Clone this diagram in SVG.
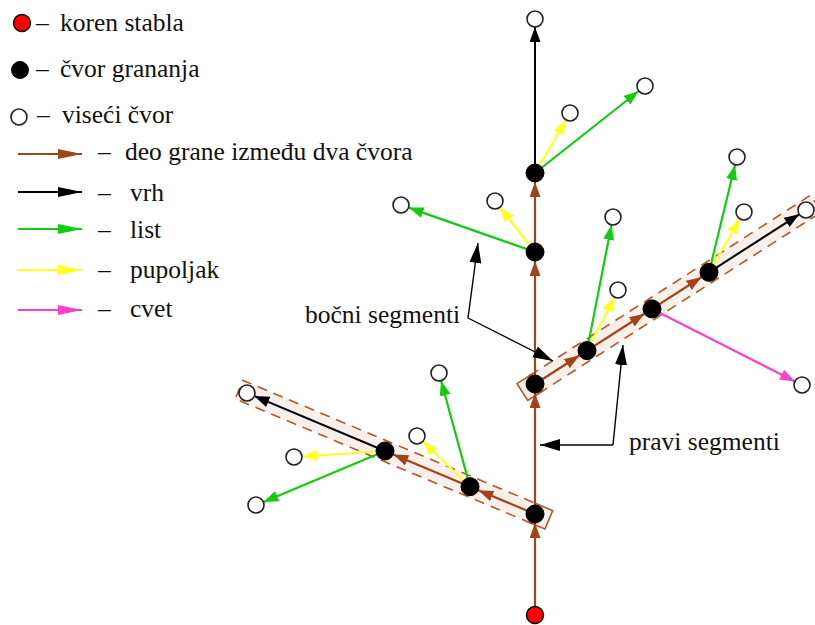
<svg xmlns="http://www.w3.org/2000/svg" width="815" height="625" viewBox="0 0 815 625">
<style>
.t{font-family:'Liberation Serif','DejaVu Serif',serif;font-size:25.5px;fill:#111}
.br{stroke:#a0441a;stroke-width:2.2;fill:none}
.bk{stroke:#000;stroke-width:2;fill:none}
.gr{stroke:#11cc11;stroke-width:2.2;fill:none}
.ye{stroke:#ffff22;stroke-width:2.2;fill:none}
.mg{stroke:#ff3fcc;stroke-width:2.2;fill:none}
.ann{stroke:#000;stroke-width:1.4;fill:none}
.seg{fill:#f8eeea;stroke:none}
.dash{fill:none;stroke:#b0582a;stroke-width:1.6;stroke-dasharray:10,7}
.cap{fill:none;stroke:#b0582a;stroke-width:1.6}
.wn{fill:#fff;stroke:#222;stroke-width:1.6}
.bn{fill:#000;stroke:#000;stroke-width:1}
.rn{fill:#ff0000;stroke:#000;stroke-width:1.4}
</style>
<defs>
<marker id="aBr" markerUnits="userSpaceOnUse" markerWidth="16" markerHeight="12" refX="15" refY="5.5" orient="auto"><path d="M0,0 L15,5.5 L0,11 z" fill="#a0441a"/></marker>
<marker id="aBk" markerUnits="userSpaceOnUse" markerWidth="16" markerHeight="12" refX="15" refY="5.5" orient="auto"><path d="M0,0 L15,5.5 L0,11 z" fill="#000"/></marker>
<marker id="aGr" markerUnits="userSpaceOnUse" markerWidth="16" markerHeight="12" refX="15" refY="5.5" orient="auto"><path d="M0,0 L15,5.5 L0,11 z" fill="#11cc11"/></marker>
<marker id="aYe" markerUnits="userSpaceOnUse" markerWidth="16" markerHeight="12" refX="15" refY="5.5" orient="auto"><path d="M0,0 L15,5.5 L0,11 z" fill="#ffff22"/></marker>
<marker id="aMg" markerUnits="userSpaceOnUse" markerWidth="16" markerHeight="12" refX="15" refY="5.5" orient="auto"><path d="M0,0 L15,5.5 L0,11 z" fill="#ff3fcc"/></marker>
<marker id="lBr" markerUnits="userSpaceOnUse" markerWidth="25" markerHeight="11" refX="24" refY="5" orient="auto"><path d="M0,0 L24,5 L0,10 z" fill="#a0441a"/></marker>
<marker id="lBk" markerUnits="userSpaceOnUse" markerWidth="25" markerHeight="11" refX="24" refY="5" orient="auto"><path d="M0,0 L24,5 L0,10 z" fill="#000"/></marker>
<marker id="lGr" markerUnits="userSpaceOnUse" markerWidth="25" markerHeight="11" refX="24" refY="5" orient="auto"><path d="M0,0 L24,5 L0,10 z" fill="#11cc11"/></marker>
<marker id="lYe" markerUnits="userSpaceOnUse" markerWidth="25" markerHeight="11" refX="24" refY="5" orient="auto"><path d="M0,0 L24,5 L0,10 z" fill="#ffff22"/></marker>
<marker id="lMg" markerUnits="userSpaceOnUse" markerWidth="25" markerHeight="11" refX="24" refY="5" orient="auto"><path d="M0,0 L24,5 L0,10 z" fill="#ff3fcc"/></marker>
<marker id="aAn" markerUnits="userSpaceOnUse" markerWidth="21" markerHeight="13" refX="20" refY="6" orient="auto"><path d="M0,0 L20,6 L0,12 z" fill="#000"/></marker>
</defs>

<!-- legend -->
<g id="legend" font-family="'Liberation Serif', 'DejaVu Serif', serif">
<circle class="rn" cx="22" cy="23" r="8.5"/>
<text class="t" x="36" y="31">–</text><text class="t" x="60" y="31">koren stabla</text>
<circle class="bn" cx="20" cy="70" r="8.5"/>
<text class="t" x="36" y="77">–</text><text class="t" x="60" y="77">čvor grananja</text>
<circle class="wn" cx="19" cy="117" r="8"/>
<text class="t" x="37" y="123">–</text><text class="t" x="62" y="123">viseći čvor</text>
<line class="br" x1="18" y1="154" x2="82" y2="154" marker-end="url(#lBr)"/>
<text class="t" x="98" y="160">–</text><text class="t" x="125" y="160">deo grane između dva čvora</text>
<line class="bk" x1="18" y1="192" x2="82" y2="192" marker-end="url(#lBk)"/>
<text class="t" x="98" y="201">–</text><text class="t" x="130" y="201">vrh</text>
<line class="gr" x1="18" y1="229" x2="82" y2="229" marker-end="url(#lGr)"/>
<text class="t" x="98" y="238">–</text><text class="t" x="130" y="238">list</text>
<line class="ye" x1="18" y1="270" x2="82" y2="270" marker-end="url(#lYe)"/>
<text class="t" x="98" y="278">–</text><text class="t" x="130" y="278">pupoljak</text>
<line class="mg" x1="18" y1="310" x2="82" y2="310" marker-end="url(#lMg)"/>
<text class="t" x="98" y="317">–</text><text class="t" x="130" y="317">cvet</text>
</g>

<!-- segment highlights -->
<g id="segments">
<g transform="translate(535,384) rotate(-32.7)">
<rect class="seg" x="-15" y="-10" width="349" height="20"/>
<path class="dash" d="M0,-10 L334,-10 L334,10 L0,10"/>
<path class="cap" d="M4,-10 L-15,-10 L-15,10 L4,10"/>
</g>
<g transform="translate(535,514) rotate(202.8)">
<rect class="seg" x="-15" y="-10" width="336" height="20"/>
<path class="dash" d="M0,-10 L321,-10 L321,10 L0,10"/>
<path class="cap" d="M4,-10 L-15,-10 L-15,10 L4,10"/>
</g>
</g>

<!-- connectors -->
<g id="connectors">
<line class="br" x1="535" y1="615" x2="535" y2="523" marker-end="url(#aBr)"/>
<line class="br" x1="535" y1="514" x2="535" y2="393" marker-end="url(#aBr)"/>
<line class="br" x1="535" y1="384" x2="535" y2="261" marker-end="url(#aBr)"/>
<line class="br" x1="535" y1="252" x2="535" y2="182" marker-end="url(#aBr)"/>
<line class="bk" x1="535" y1="173" x2="535" y2="27" marker-end="url(#aBk)"/>
<line class="ye" x1="535" y1="173" x2="566" y2="120" marker-end="url(#aYe)"/>
<line class="gr" x1="535" y1="173" x2="638.7" y2="91" marker-end="url(#aGr)"/>
<line class="ye" x1="535" y1="252" x2="499.9" y2="207.3" marker-end="url(#aYe)"/>
<line class="gr" x1="535" y1="252" x2="408.6" y2="207.6" marker-end="url(#aGr)"/>
<line class="br" x1="535" y1="384" x2="579.4" y2="355.5" marker-end="url(#aBr)"/>
<line class="br" x1="587" y1="350.6" x2="644.4" y2="313.8" marker-end="url(#aBr)"/>
<line class="br" x1="652" y1="308.9" x2="701.4" y2="277.2" marker-end="url(#aBr)"/>
<line class="bk" x1="709" y1="272.3" x2="799.3" y2="214.3" marker-end="url(#aBk)"/>
<line class="gr" x1="587" y1="350.6" x2="611.5" y2="224.9" marker-end="url(#aGr)"/>
<line class="ye" x1="587" y1="350.6" x2="614.4" y2="297.1" marker-end="url(#aYe)"/>
<line class="mg" x1="652" y1="308.9" x2="794.9" y2="381.4" marker-end="url(#aMg)"/>
<line class="gr" x1="709" y1="272.3" x2="735.1" y2="164.8" marker-end="url(#aGr)"/>
<line class="ye" x1="709" y1="272.3" x2="740" y2="218.9" marker-end="url(#aYe)"/>
<line class="br" x1="535" y1="514" x2="478.3" y2="490.2" marker-end="url(#aBr)"/>
<line class="br" x1="470" y1="486.7" x2="393.3" y2="454.5" marker-end="url(#aBr)"/>
<line class="bk" x1="385" y1="451" x2="254.4" y2="396.1" marker-end="url(#aBk)"/>
<line class="gr" x1="470" y1="486.7" x2="441.1" y2="380.7" marker-end="url(#aGr)"/>
<line class="ye" x1="470" y1="486.7" x2="422.8" y2="441.5" marker-end="url(#aYe)"/>
<line class="ye" x1="385" y1="451" x2="302" y2="456.5" marker-end="url(#aYe)"/>
<line class="gr" x1="385" y1="451" x2="263.4" y2="501.9" marker-end="url(#aGr)"/>
</g>

<!-- annotations -->
<g id="annotations">
<polyline class="ann" points="468,318 478,243" marker-end="url(#aAn)"/>
<polyline class="ann" points="468,318 553,361" marker-end="url(#aAn)"/>
<text class="t" x="305" y="323">bočni segmenti</text>
<polyline class="ann" points="613,445 623,345" marker-end="url(#aAn)"/>
<polyline class="ann" points="613,445 540,445" marker-end="url(#aAn)"/>
<text class="t" x="629" y="450">pravi segmenti</text>
</g>

<!-- nodes -->
<g id="root"><circle class="rn" cx="535" cy="615" r="8.5"/></g>
<g id="b1"><circle class="bn" cx="535" cy="514" r="9"/></g>
<g id="b2"><circle class="bn" cx="535" cy="384" r="9"/></g>
<g id="b3"><circle class="bn" cx="535" cy="252" r="9"/></g>
<g id="b4"><circle class="bn" cx="535" cy="173" r="9"/></g>
<g id="top"><circle class="wn" cx="535" cy="19" r="8"/></g>
<g id="w_b4y"><circle class="wn" cx="570" cy="113" r="8"/></g>
<g id="w_b4g"><circle class="wn" cx="645" cy="86" r="8"/></g>
<g id="w_b3y"><circle class="wn" cx="495" cy="201" r="8"/></g>
<g id="w_b3g"><circle class="wn" cx="401" cy="205" r="8"/></g>
<g id="r1"><circle class="bn" cx="587" cy="350.6" r="9"/></g>
<g id="r2"><circle class="bn" cx="652" cy="308.9" r="9"/></g>
<g id="r3"><circle class="bn" cx="709" cy="272.3" r="9"/></g>
<g id="r_end"><circle class="wn" cx="806" cy="210" r="8"/></g>
<g id="w_r1g"><circle class="wn" cx="613" cy="217" r="8"/></g>
<g id="w_r1y"><circle class="wn" cx="618" cy="290" r="8"/></g>
<g id="w_r2m"><circle class="wn" cx="802" cy="385" r="8"/></g>
<g id="w_r3g"><circle class="wn" cx="737" cy="157" r="8"/></g>
<g id="w_r3y"><circle class="wn" cx="744" cy="212" r="8"/></g>
<g id="l1"><circle class="bn" cx="470" cy="486.7" r="9"/></g>
<g id="l2"><circle class="bn" cx="385" cy="451" r="9"/></g>
<g id="l_end"><circle class="wn" cx="247" cy="393" r="8"/></g>
<g id="w_l1g"><circle class="wn" cx="439" cy="373" r="8"/></g>
<g id="w_l1y"><circle class="wn" cx="417" cy="436" r="8"/></g>
<g id="w_l2y"><circle class="wn" cx="294" cy="457" r="8"/></g>
<g id="w_l2g"><circle class="wn" cx="256" cy="505" r="8"/></g>
</svg>
